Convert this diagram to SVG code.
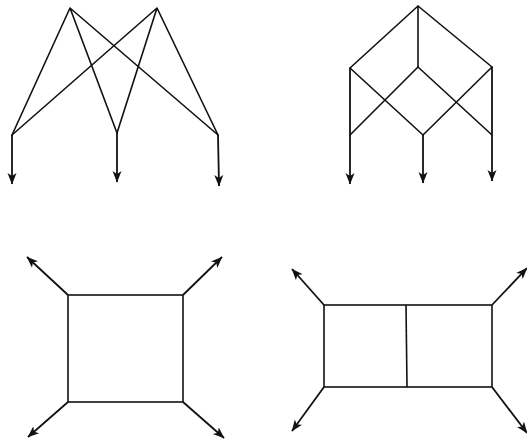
<svg xmlns="http://www.w3.org/2000/svg" width="527" height="444" viewBox="0 0 527 444">
<style>
.ln{stroke:#111;stroke-width:1.6;fill:none;stroke-linecap:round}
.ar{stroke:#111;stroke-width:1.8;fill:none;marker-end:url(#ah)}
.box{stroke:#111;stroke-width:1.6;fill:none}
</style>
<defs>
<marker id="ah" markerUnits="userSpaceOnUse" markerWidth="12" markerHeight="10" viewBox="0 0 12 10" refX="11" refY="5" orient="auto">
<path d="M0,0.5 L11.5,5 L0,9.5 L3,5 z" fill="#111"/>
</marker>
</defs>
<rect width="527" height="444" fill="#fff"/>

<g id="fig1">
  <g id="fig1-connectors">
    <path class="ln" d="M70,8 L12,135 M70,8 L117,133 M70,8 L218,135"/>
    <path class="ln" d="M157,8 L12,135 M157,8 L117,133 M157,8 L218,135"/>
    <path class="ar" d="M12,135 L12,184"/>
    <path class="ar" d="M117,133 L117,182"/>
    <path class="ar" d="M218,135 L219,186"/>
  </g>
</g>

<g id="fig2">
  <g id="fig2-connectors">
    <path class="ln" d="M418,6 L350,68 M418,6 L418,67 M418,6 L492,67"/>
    <path class="ln" d="M350,68 L423,135 M418,67 L350,135 M418,67 L492,135 M492,67 L423,135"/>
    <path class="ar" d="M350,68 L350,184"/>
    <path class="ar" d="M423,135 L423,183"/>
    <path class="ar" d="M492,67 L492,181"/>
  </g>
</g>

<g id="fig3">
  <g id="fig3-box"><rect class="box" x="68" y="295" width="115" height="107"/></g>
  <g id="fig3-connectors">
    <path class="ar" d="M68,295 L27,257"/>
    <path class="ar" d="M183,295 L222,257"/>
    <path class="ar" d="M68,402 L28,437"/>
    <path class="ar" d="M183,402 L224,438"/>
  </g>
</g>

<g id="fig4">
  <g id="fig4-box"><rect class="box" x="324" y="305" width="168" height="82"/><path class="box" d="M406,305 L407,387"/></g>
  <g id="fig4-connectors">
    <path class="ar" d="M324,305 L292,269"/>
    <path class="ar" d="M492,305 L527,268"/>
    <path class="ar" d="M324,387 L292,431"/>
    <path class="ar" d="M492,387 L527,433"/>
  </g>
</g>
</svg>
